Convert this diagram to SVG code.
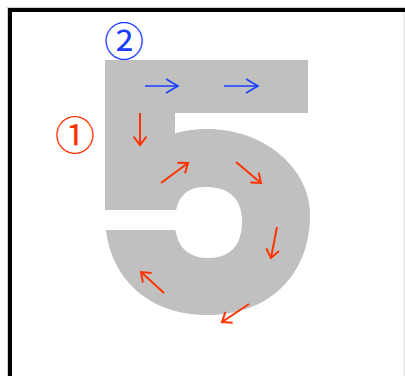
<svg xmlns="http://www.w3.org/2000/svg" width="405" height="376" viewBox="0 0 405 376">
<style>
.shape{fill:#c0c0c0}
.cut{fill:#ffffff}
.ra{stroke:#ff3300;stroke-width:2;fill:none;marker-end:url(#rh)}
.ba{stroke:#1a3cff;stroke-width:1.6;fill:none;marker-end:url(#bh)}
.lbl{font-family:"Noto Sans CJK JP","DejaVu Sans",sans-serif;font-size:40px;text-anchor:middle;dominant-baseline:central}
</style>
<defs>
<marker id="rh" markerUnits="userSpaceOnUse" markerWidth="20" markerHeight="20" viewBox="-12 -10 14 20" refX="0" refY="0" orient="auto" overflow="visible">
<path d="M-8.5,-6.5 L0,0 L-8.5,6.5" fill="none" stroke="#ff3300" stroke-width="2"/>
</marker>
<marker id="bh" markerUnits="userSpaceOnUse" markerWidth="20" markerHeight="20" viewBox="-14 -10 16 20" refX="0" refY="0" orient="auto" overflow="visible">
<path d="M-12,-7 L0,0 L-12,7" fill="none" stroke="#1a3cff" stroke-width="1.6"/>
</marker>
</defs>
<rect x="0" y="0" width="405" height="376" fill="#ffffff"/>
<rect x="7.5" y="7.5" width="420" height="400" fill="none" stroke="#d0d0d0" stroke-width="1"/>
<rect x="10" y="10" width="420" height="400" fill="none" stroke="#000000" stroke-width="4"/>
<line x1="404" y1="12" x2="404" y2="376" stroke="#d8d8d8" stroke-width="1"/>
<g id="five">
<rect class="shape" x="105" y="60" width="203" height="53"/>
<rect class="shape" x="105" y="112" width="70" height="100"/>
<path class="shape" d="M207,129 C264,129 310,168 310,215 C310,275 269,315 207,315 C146,315 105,275 105,215 C105,168 150,129 207,129 Z"/>
<rect class="cut" x="103" y="210" width="80" height="20"/>
<path class="cut" d="M205,187 C228,187 242,197 242,222 C242,247 228,258 208,258 C187,258 175,245 175,222 C175,199 185,187 205,187 Z"/>
</g>
<g id="labels">
<text class="lbl" x="75" y="133" fill="#ff3300">①</text>
<text class="lbl" x="124" y="38.5" fill="#1a3cff">②</text>
</g>
<g id="arrows">
<line class="ba" x1="145" y1="86" x2="178" y2="86"/>
<line class="ba" x1="224" y1="86" x2="258" y2="86"/>
<line class="ra" x1="140" y1="113" x2="140" y2="145"/>
<line class="ra" x1="161" y1="183" x2="188" y2="163"/>
<line class="ra" x1="236" y1="162" x2="261" y2="183"/>
<line class="ra" x1="277" y1="227" x2="271" y2="258"/>
<line class="ra" x1="249" y1="304" x2="222" y2="322"/>
<line class="ra" x1="164" y1="293" x2="141" y2="272"/>
</g>
</svg>
